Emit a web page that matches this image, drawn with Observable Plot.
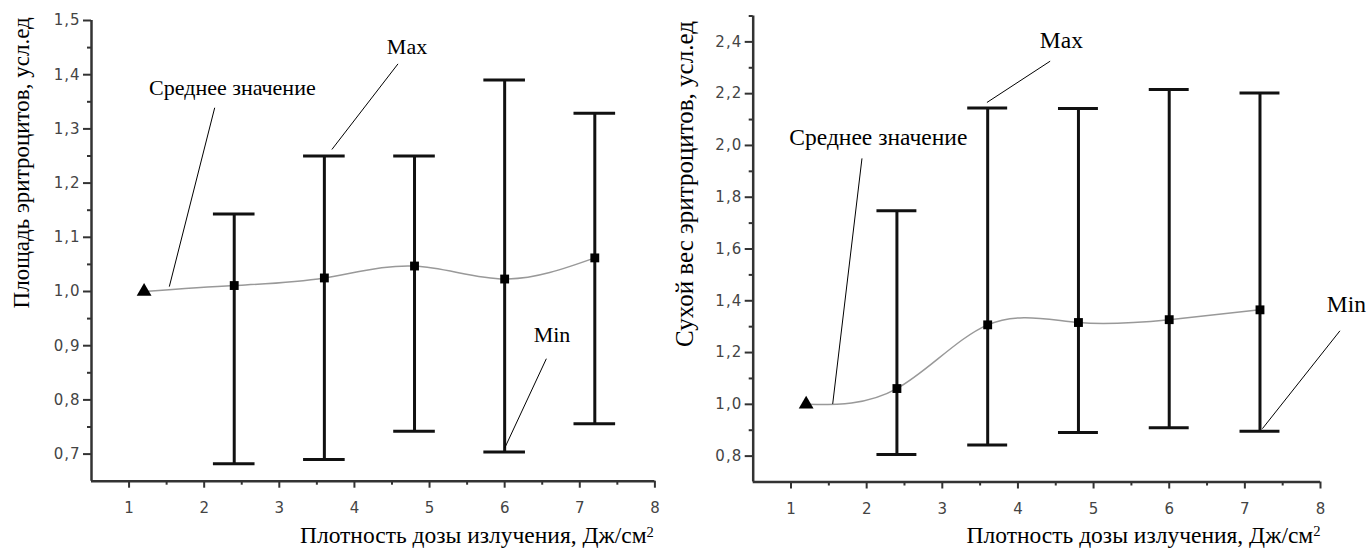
<!DOCTYPE html>
<html><head><meta charset="utf-8">
<script src="https://cdn.jsdelivr.net/npm/d3@7"></script>
<script src="https://cdn.jsdelivr.net/npm/@observablehq/plot@0.6"></script>
<style>
body{margin:0;background:#fff;}
#wrap{display:flex;width:1368px;height:555px;overflow:hidden;}
#wrap svg{overflow:visible;}
</style></head><body><div id="wrap"><div id="left"></div><div id="right"></div></div>
<script>
// ---- data ----
const dose = [2.4, 3.6, 4.8, 6.0, 7.2];
const controlDose = 1.2;
const controlValue = 1.0;

const areaMean = [1.011, 1.025, 1.047, 1.023, 1.062];
const areaMax  = [1.143, 1.250, 1.250, 1.390, 1.329];
const areaMin  = [0.682, 0.690, 0.742, 0.704, 0.756];

const weightMean = [1.061, 1.307, 1.316, 1.327, 1.365];
const weightMax  = [1.748, 2.145, 2.143, 2.216, 2.203];
const weightMin  = [0.806, 0.843, 0.891, 0.910, 0.896];

const xTicks = [1, 2, 3, 4, 5, 6, 7, 8];
const xMinorTicks = [1.5, 2.5, 3.5, 4.5, 5.5, 6.5, 7.5];
const areaTicks = [0.7, 0.8, 0.9, 1.0, 1.1, 1.2, 1.3, 1.4, 1.5];
const areaMinorTicks = [0.75, 0.85, 0.95, 1.05, 1.15, 1.25, 1.35, 1.45];
const weightTicks = [0.8, 1.0, 1.2, 1.4, 1.6, 1.8, 2.0, 2.2, 2.4];
const weightMinorTicks = [0.9, 1.1, 1.3, 1.5, 1.7, 1.9, 2.1, 2.3, 2.5];

const xLabelBase = "Плотность дозы излучения, Дж/см";
const xLabelSup = "2";
const areaLabel = "Площадь эритроцитов, усл.ед";
const weightLabel = "Сухой вес эритроцитов, усл.ед";
const meanText = "Среднее значение";
const maxText = "Max";
const minText = "Min";

// annotation anchors (data coordinates)
const areaNotes = [
  {text: meanText, x: 1.266, y: 1.376, anchor: "start"},
  {text: maxText, x: 4.70, y: 1.452, anchor: "middle"},
  {text: minText, x: 6.63, y: 0.919, anchor: "middle"}
];
const areaLeaders = [
  {x1: 2.14, y1: 1.339, x2: 1.536, y2: 1.009},
  {x1: 4.58, y1: 1.420, x2: 3.70, y2: 1.262},
  {x1: 6.555, y1: 0.876, x2: 6.0, y2: 0.711}
];
const weightNotes = [
  {text: meanText, x: 0.978, y: 2.032, anchor: "start"},
  {text: maxText, x: 4.574, y: 2.406, anchor: "middle"},
  {text: minText, x: 8.343, y: 1.385, anchor: "middle"}
];
const weightLeaders = [
  {x1: 1.938, y1: 1.950, x2: 1.551, y2: 1.0015},
  {x1: 4.426, y1: 2.3255, x2: 3.590, y2: 2.166},
  {x1: 8.257, y1: 1.284, x2: 7.232, y2: 0.906}
];

const comma = d => d.toFixed(1).replace(".", ",");

function chart(o) {
  const bars = dose.map((x, i) => ({x, mean: o.mean[i], max: o.max[i], min: o.min[i]}));
  const curvePts = [{x: controlDose, y: controlValue}, ...bars.map(d => ({x: d.x, y: d.mean}))];
  const cap = o.cap;
  const serif = {fontFamily: "Liberation Serif", fill: "#000"};
  const svg = Plot.plot({
    width: o.width, height: 555,
    marginLeft: o.ml, marginRight: o.mr, marginTop: o.mt, marginBottom: o.mb,
    x: {domain: [0.5, 8]},
    y: {domain: o.ydomain},
    style: {fontFamily: "DejaVu Sans", fontSize: o.tickFont + "px", background: "#fff", color: "#333"},
    marks: [
      Plot.axisY({ticks: o.minor, tickSize: 4, tickFormat: () => "", stroke: "#333", strokeWidth: 2}),
      Plot.axisY({ticks: o.major, tickSize: 8, tickPadding: 3, tickFormat: comma, stroke: "#333", strokeWidth: 2, fill: "#444", fontSize: o.tickFont}),
      Plot.axisX({ticks: xMinorTicks, tickSize: 4, tickFormat: () => "", stroke: "#333", strokeWidth: 2}),
      Plot.axisX({ticks: xTicks, tickSize: 7, tickPadding: 14, tickFormat: d => String(d), stroke: "#333", strokeWidth: 2, fill: "#444", fontSize: o.tickFont}),
      Plot.ruleX([0.5], {stroke: "#333", strokeWidth: 2.5}),
      Plot.ruleY([o.ydomain[0]], {stroke: "#333", strokeWidth: 2.5}),
      Plot.line(curvePts, {x: "x", y: "y", curve: "natural", stroke: "#999", strokeWidth: 1.5}),
      Plot.ruleX(bars, {x: "x", y1: "min", y2: "max", stroke: "#111", strokeWidth: 3}),
      Plot.ruleY(bars, {y: "max", x1: d => d.x - cap, x2: d => d.x + cap, stroke: "#111", strokeWidth: 3}),
      Plot.ruleY(bars, {y: "min", x1: d => d.x - cap, x2: d => d.x + cap, stroke: "#111", strokeWidth: 3}),
      Plot.dot(bars, {x: "x", y: "mean", symbol: "square", r: 5, fill: "#000"}),
      Plot.dot([{x: controlDose, y: controlValue}], {x: "x", y: "y", symbol: "triangle", r: 5.5, fill: "#000"}),
      Plot.link(o.leaders, {x1: "x1", y1: "y1", x2: "x2", y2: "y2", stroke: "#000", strokeWidth: 1}),
      Plot.text(o.notes, {filter: d => d.anchor === "start", x: "x", y: "y", text: "text", textAnchor: "start", lineAnchor: "middle", fontSize: o.noteFont, ...serif}),
      Plot.text(o.notes, {filter: d => d.anchor === "middle", x: "x", y: "y", text: "text", textAnchor: "middle", lineAnchor: "middle", fontSize: o.noteFont, ...serif}),
      Plot.text([o.ylabel], {frameAnchor: "left", text: d => d, rotate: -90, dx: o.ylx, dy: o.yly,
        textAnchor: "middle", lineAnchor: "middle", fontSize: o.yFont, ...serif}),
      Plot.text([xLabelBase], {frameAnchor: "bottom-right", text: d => d, dx: o.xlx, dy: o.xly,
        textAnchor: "end", lineAnchor: "bottom", fontSize: o.xFont, ...serif})
    ]
  });
  svg.querySelectorAll('g[aria-label="y-axis tick label"] text').forEach(t => t.style.letterSpacing = "1px");
  svg.querySelectorAll("text").forEach(t => {
    if (t.textContent === xLabelBase) {
      const ts = document.createElementNS("http://www.w3.org/2000/svg", "tspan");
      ts.setAttribute("font-size", "0.62em");
      ts.setAttribute("dy", "-0.45em");
      ts.textContent = xLabelSup;
      t.appendChild(ts);
    }
  });
  return svg;
}

document.getElementById("left").append(chart({
  width: 665, ml: 91, mr: 10.6, mt: 20, mb: 74.3,
  ydomain: [0.65, 1.5], major: areaTicks, minor: areaMinorTicks,
  mean: areaMean, max: areaMax, min: areaMin, cap: 0.277,
  notes: areaNotes, leaders: areaLeaders, ylabel: areaLabel,
  ylx: -70, yly: -88, xlx: -1, xly: 62, noteFont: 22, yFont: 23, xFont: 23.5, tickFont: 15
}));
document.getElementById("right").append(chart({
  width: 703, ml: 87.7, mr: 48, mt: 15.5, mb: 73.5,
  ydomain: [0.7, 2.5], major: weightTicks, minor: weightMinorTicks,
  mean: weightMean, max: weightMax, min: weightMin, cap: 0.264,
  notes: weightNotes, leaders: weightLeaders, ylabel: weightLabel,
  ylx: -68.7, yly: -65, xlx: 0, xly: 60.5, noteFont: 23.5, yFont: 25, xFont: 23.5, tickFont: 15
}));
</script></body></html>
